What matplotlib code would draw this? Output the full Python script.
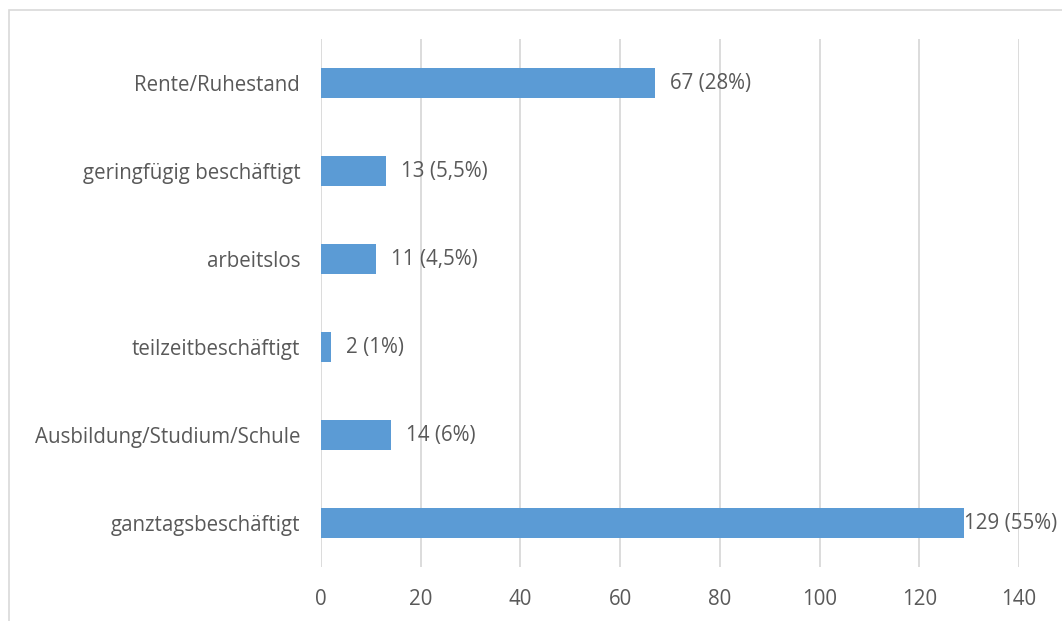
import matplotlib.pyplot as plt
from matplotlib.patches import Rectangle

categories = ['ganztagsbeschäftigt', 'Ausbildung/Studium/Schule', 'teilzeitbeschäftigt',
              'arbeitslos', 'geringfügig beschäftigt', 'Rente/Ruhestand']
counts = [129, 14, 2, 11, 13, 67]
labels = ['129 (55%)', '14 (6%)', '2 (1%)', '11 (4,5%)', '13 (5,5%)', '67 (28%)']
xticks = [0, 20, 40, 60, 80, 100, 120, 140]

plt.rcParams['font.family'] = ['Open Sans', 'DejaVu Sans']
TXT = '#595959'
FS = 14.8

fig = plt.figure(figsize=(10.62, 6.21), dpi=100)
fig.patches.append(Rectangle((9/1062, -0.1), 1.2, (621-10)/621 + 0.1,
                             transform=fig.transFigure, fill=False,
                             edgecolor='#d9d9d9', linewidth=1.2))
ax = fig.add_axes([321/1062, 54/621, 698/1062, 528/621])

y = range(len(categories))
ax.barh(y, counts, height=0.35, color='#5B9BD5', zorder=3)
ax.set_ylim(-0.5, len(categories) - 0.5)
ax.set_xlim(0, 140)
ax.set_xticks(xticks)
ax.set_yticks(list(y))
ax.set_yticklabels(categories)

for sp in ax.spines.values():
    sp.set_visible(False)
ax.grid(axis='x', color='#d9d9d9', linewidth=1.3, zorder=0)
ax.tick_params(axis='both', length=0, labelsize=FS, colors=TXT)
ax.tick_params(axis='x', pad=16)
ax.tick_params(axis='y', pad=15)

for i, (c, lab) in enumerate(zip(counts, labels)):
    off = 0 if c == max(counts) else 11
    ax.annotate(lab, (c, i), xytext=(off, 0), textcoords='offset points',
                va='center', ha='left', fontsize=FS, color=TXT, zorder=4)

fig.savefig('out.png', dpi=100)
